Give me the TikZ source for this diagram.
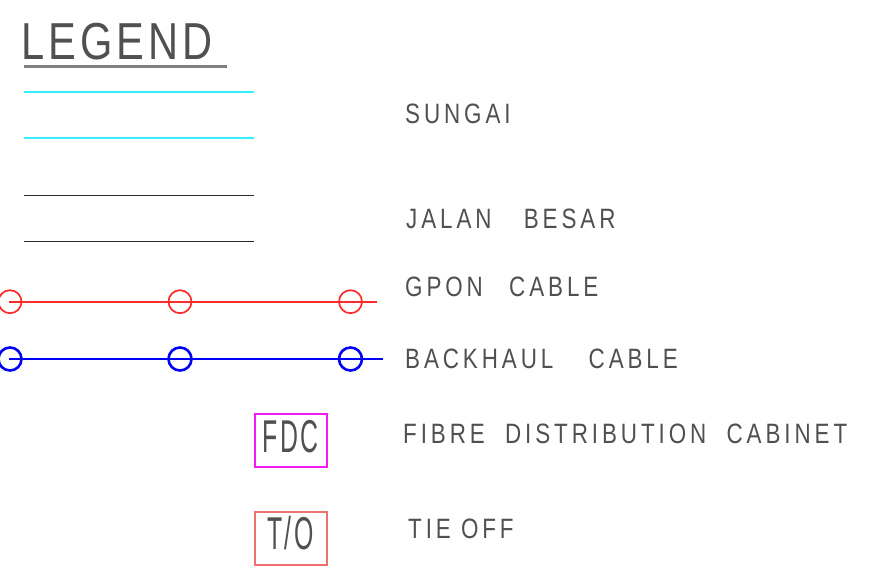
\documentclass[tikz,border=0pt]{standalone}
\usepackage{fontspec}
\setmainfont{Liberation Sans}[FakeStretch=0.8, LetterSpace=14]
\newfontfamily\boxfont{Liberation Sans}[FakeStretch=0.54, LetterSpace=6]
\usetikzlibrary{positioning}

\definecolor{sungaicol}{HTML}{33F0FF}
\definecolor{jalancol}{HTML}{2A2A2A}
\definecolor{gponcol}{HTML}{FF2A2A}
\definecolor{backhaulcol}{HTML}{0000F5}
\definecolor{fdccol}{HTML}{F51AF5}
\definecolor{tiecol}{HTML}{F07070}
\definecolor{txtcol}{HTML}{505050}

\tikzset{
    lbl/.style={anchor=base west, inner sep=0, text=txtcol, font=\fontsize{28}{28}\selectfont},
    river/.style={line width=2pt, sungaicol},
    road/.style={line width=1.8pt, jalancol},
    gponline/.style={line width=1.9pt, gponcol},
    backhaulline/.style={line width=2.8pt, backhaulcol},
    gponring/.style={circle, draw=gponcol, line width=1.7pt, minimum size=23pt, inner sep=0},
    backhaulring/.style={circle, draw=backhaulcol, line width=2.6pt, minimum size=23pt, inner sep=0},
    symbox/.style={draw, line width=2pt, inner sep=0, minimum width=72pt, text height=38pt, text depth=15pt, text=txtcol, font=\boxfont\fontsize{46}{46}\selectfont}
}

\begin{document}
\begin{tikzpicture}[x=1pt, y=-1pt]
            \useasboundingbox (0,0) rectangle (890,585);

            \node[anchor=base west, inner sep=0, text=txtcol, font=\fontsize{52}{52}\selectfont\addfontfeature{LetterSpace=8}] (legend) at (21,60) {LEGEND};
            \coordinate (ulA) at (24,66.5);
            \coordinate (ulB) at (227,66.5);
            \draw[line width=2.2pt, black!50 ,-] (ulA) -- (ulB) ;

            \coordinate (riverA1) at (24,91.7);
            \coordinate (riverA2) at (254,91.7);
            \coordinate (riverB1) at (24,137.7);
            \coordinate (riverB2) at (254,137.7);
            \draw[river ,-] (riverA1) -- (riverA2) ;
            \draw[river ,-] (riverB1) -- (riverB2) ;

            \coordinate (roadA1) at (24,195.5);
            \coordinate (roadA2) at (254,195.5);
            \coordinate (roadB1) at (24,241.5);
            \coordinate (roadB2) at (254,241.5);
            \draw[road ,-] (roadA1) -- (roadA2) ;
            \draw[road ,-] (roadB1) -- (roadB2) ;

            \coordinate (gponL) at (9,301.7);
            \coordinate (gponR) at (377,301.7);
            \draw[gponline ,-] (gponL) -- (gponR) ;
            \node[gponring] (g1) at (10,301.7)  {};
            \node[gponring] (g2) at (180,301.7) {};
            \node[gponring] (g3) at (350.5,301.7) {};

            \coordinate (bhL) at (9,359);
            \coordinate (bhR) at (383,359);
            \draw[backhaulline ,-] (bhL) -- (bhR) ;
            \node[backhaulring] (b1) at (10,359)  {};
            \node[backhaulring] (b2) at (180,359) {};
            \node[backhaulring] (b3) at (350.5,359) {};

            \node[symbox, draw=fdccol] (fdc) at (290.5,440.5) {FDC};
            \node[symbox, draw=tiecol] (to)  at (290.5,538)   {T/O};

            \node[lbl] (sungai)   at (405,123.3) {SUNGAI};
            \node[lbl] (jalan)    at (406,228)   {JALAN\ \ \hspace{12pt}BESAR};
            \node[lbl] (gpon)     at (405,296)   {GPON\ \ \hspace{6pt}CABLE};
            \node[lbl] (backhaul) at (405,368)   {BACKHAUL\ \ \hspace{15pt}CABLE};
            \node[lbl] (cabinet)  at (403,443)   {FIBRE\ \ DISTRIBUTION\ \ CABINET};
            \node[lbl] (tieoff)   at (408,538)   {TIE\ OFF};
        \end{tikzpicture}
\end{document}
